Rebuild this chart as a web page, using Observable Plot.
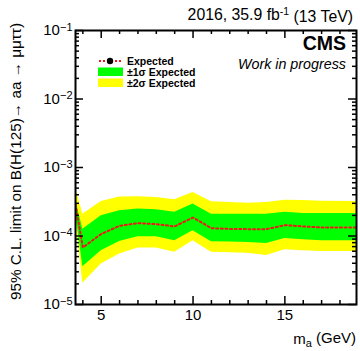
<!DOCTYPE html>
<html><head><meta charset="utf-8">
<script src="https://cdn.jsdelivr.net/npm/d3@7"></script>
<script src="https://cdn.jsdelivr.net/npm/@observablehq/plot@0.6"></script>
<style>
body{margin:0;background:#fff}
svg{font-family:"Liberation Sans",Arial,Helvetica,sans-serif}
</style>
</head><body><div id="chart"></div>
<script>
// ---- data ----
const mass      = [3.6, 4, 5, 6, 7, 8, 9, 10, 11, 12, 13, 14, 15, 16, 17, 19];
const expected  = [2.9e-4, 6.8e-5, 1.07e-4, 1.41e-4, 1.54e-4, 1.49e-4, 1.38e-4, 1.86e-4, 1.30e-4, 1.27e-4, 1.26e-4, 1.26e-4, 1.44e-4, 1.38e-4, 1.33e-4, 1.33e-4];
const sigma1Lo  = [2.2e-4, 3.57e-5, 6.1e-5, 8.34e-5, 9.75e-5, 9.75e-5, 8.53e-5, 1.19e-4, 8.24e-5, 8.15e-5, 8.06e-5, 7.8e-5, 9.22e-5, 8.82e-5, 8.53e-5, 8.53e-5];
const sigma1Hi  = [3.44e-4, 1.26e-4, 1.97e-4, 2.33e-4, 2.47e-4, 2.41e-4, 2.23e-4, 2.92e-4, 2.08e-4, 2.08e-4, 2.08e-4, 2.08e-4, 2.23e-4, 2.13e-4, 2.13e-4, 2.13e-4];
const sigma2Lo  = [1.9e-4, 2.04e-5, 3.9e-5, 5.46e-5, 6.67e-5, 6.67e-5, 5.77e-5, 8.53e-5, 5.77e-5, 5.7e-5, 5.58e-5, 5.21e-5, 6.31e-5, 6.1e-5, 5.96e-5, 5.96e-5];
const sigma2Hi  = [5.1e-4, 2.08e-4, 3.18e-4, 3.72e-4, 3.75e-4, 3.64e-4, 3.37e-4, 4.30e-4, 3.15e-4, 3.08e-4, 3.01e-4, 3.08e-4, 3.33e-4, 3.30e-4, 3.22e-4, 3.18e-4];

const xMajorTicks = [5, 10, 15];
const xMinorTicks = [4, 6, 7, 8, 9, 11, 12, 13, 14, 16, 17, 18];
const yMajorTicks = [1e-5, 1e-4, 1e-3, 1e-2, 1e-1];
const yTickExponents = ["−5", "−4", "−3", "−2", "−1"];
const yMinorTicks = [1e-5, 1e-4, 1e-3, 1e-2].flatMap(d => [2,3,4,5,6,7,8,9].map(k => k * d));

const legendLabels = ["Expected", "±1σ Expected", "±2σ Expected"];

const rows = mass.map((m, i) => ({m, exp: expected[i], lo1: sigma1Lo[i], hi1: sigma1Hi[i], lo2: sigma2Lo[i], hi2: sigma2Hi[i]}));

// ---- layout ----
const W = 360, H = 351, mT = 30, mB = 47, mL = 75, mR = 4;
const fH = H - mT - mB, fW = W - mL - mR;
const bigT = 8, smallT = 4;

const plot = Plot.plot({
  width: W, height: H,
  marginTop: mT, marginBottom: mB, marginLeft: mL, marginRight: mR,
  x: {domain: [3.6, 18.9]},
  y: {type: "log", domain: [1e-5, 1e-1]},
  marks: [
    Plot.areaY(rows, {x: "m", y1: "lo2", y2: "hi2", fill: "#ffff00", clip: true}),
    Plot.areaY(rows, {x: "m", y1: "lo1", y2: "hi1", fill: "#00ff00", clip: true}),
    Plot.line(rows, {x: "m", y: "exp", stroke: "#f01818", strokeWidth: 2, strokeDasharray: "2,2.6", clip: true}),
    // inward ticks on all four sides
    Plot.ruleX(xMajorTicks, {x: d => d, insetTop: fH - bigT, stroke: "black", strokeWidth: 1.5}),
    Plot.ruleX(xMajorTicks, {x: d => d, insetBottom: fH - bigT, stroke: "black", strokeWidth: 1.5}),
    Plot.ruleX(xMinorTicks, {x: d => d, insetTop: fH - smallT, stroke: "black", strokeWidth: 1.5}),
    Plot.ruleX(xMinorTicks, {x: d => d, insetBottom: fH - smallT, stroke: "black", strokeWidth: 1.5}),
    Plot.ruleY(yMajorTicks, {y: d => d, insetRight: fW - bigT, stroke: "black", strokeWidth: 1.5}),
    Plot.ruleY(yMajorTicks, {y: d => d, insetLeft: fW - bigT, stroke: "black", strokeWidth: 1.5}),
    Plot.ruleY(yMinorTicks, {y: d => d, insetRight: fW - smallT, stroke: "black", strokeWidth: 1.5}),
    Plot.ruleY(yMinorTicks, {y: d => d, insetLeft: fW - smallT, stroke: "black", strokeWidth: 1.5}),
    Plot.frame({stroke: "black", strokeWidth: 2}),
    Plot.axisX(xMajorTicks, {tickSize: 0, tickPadding: 5, fontSize: 15, label: null, fill: "black"}),
    Plot.axisY(yMajorTicks, {tickSize: 0, tickPadding: 3, fontSize: 15, label: null, fill: "black", tickFormat: d => "10"})
  ]
});

const svg = d3.select(plot);
svg.style("background", "white").style("color", "black");

// superscript exponents on the y tick labels
svg.selectAll('g[aria-label="y-axis tick label"] text').each(function(d, i) {
  const t = d3.select(this);
  const idx = yMajorTicks.indexOf(d);
  t.text("10");
  t.append("tspan").attr("dy", "-0.42em").attr("font-size", 11).text(yTickExponents[idx >= 0 ? idx : i]);
});

// y axis title
svg.append("text")
  .attr("transform", "translate(21,23) rotate(-90)")
  .attr("text-anchor", "end").attr("font-size", 15.3).attr("fill", "black")
  .text("95% C.L. limit on B(H(125)→ aa → μμττ)");

// x axis title
const xt = svg.append("text").attr("x", 356).attr("y", 344).attr("text-anchor", "end").attr("font-size", 15).attr("fill", "black");
xt.append("tspan").text("m");
xt.append("tspan").attr("dy", "0.3em").attr("font-size", 11).text("a");
xt.append("tspan").attr("dy", "-0.3em").text(" (GeV)");

// lumi label
const lt = svg.append("text").attr("x", 353).attr("y", 20).attr("text-anchor", "end").attr("font-size", 15.8).attr("fill", "black");
lt.append("tspan").text("2016, 35.9 fb");
lt.append("tspan").attr("dy", "-0.45em").attr("font-size", 10.5).text("-1");
lt.append("tspan").attr("dy", "0.45em").text(" (13 TeV)");

// CMS labels
svg.append("text").attr("x", 346).attr("y", 50).attr("text-anchor", "end")
  .attr("font-size", 19.5).attr("font-weight", "bold").attr("fill", "black").text("CMS");
svg.append("text").attr("x", 346).attr("y", 69).attr("text-anchor", "end")
  .attr("font-size", 14.3).attr("font-style", "italic").attr("fill", "black").text("Work in progress");

// legend
const lg = svg.append("g").attr("font-size", 10.5).attr("font-weight", "bold").attr("fill", "black").attr("text-anchor", "start");
lg.append("line").attr("x1", 99).attr("x2", 122).attr("y1", 61).attr("y2", 61)
  .attr("stroke", "#f01818").attr("stroke-width", 2).attr("stroke-dasharray", "2,2");
lg.append("circle").attr("cx", 110).attr("cy", 61).attr("r", 3.2).attr("fill", "black");
lg.append("text").attr("x", 127).attr("y", 64.5).text(legendLabels[0]);
lg.append("rect").attr("x", 98).attr("y", 67.5).attr("width", 25).attr("height", 8.5).attr("fill", "#00ff00");
lg.append("text").attr("x", 127).attr("y", 75.5).text(legendLabels[1]);
lg.append("rect").attr("x", 98).attr("y", 78.5).attr("width", 25).attr("height", 8.5).attr("fill", "#ffff00");
lg.append("text").attr("x", 127).attr("y", 86.5).text(legendLabels[2]);

document.getElementById("chart").appendChild(plot);
</script>
</body></html>
